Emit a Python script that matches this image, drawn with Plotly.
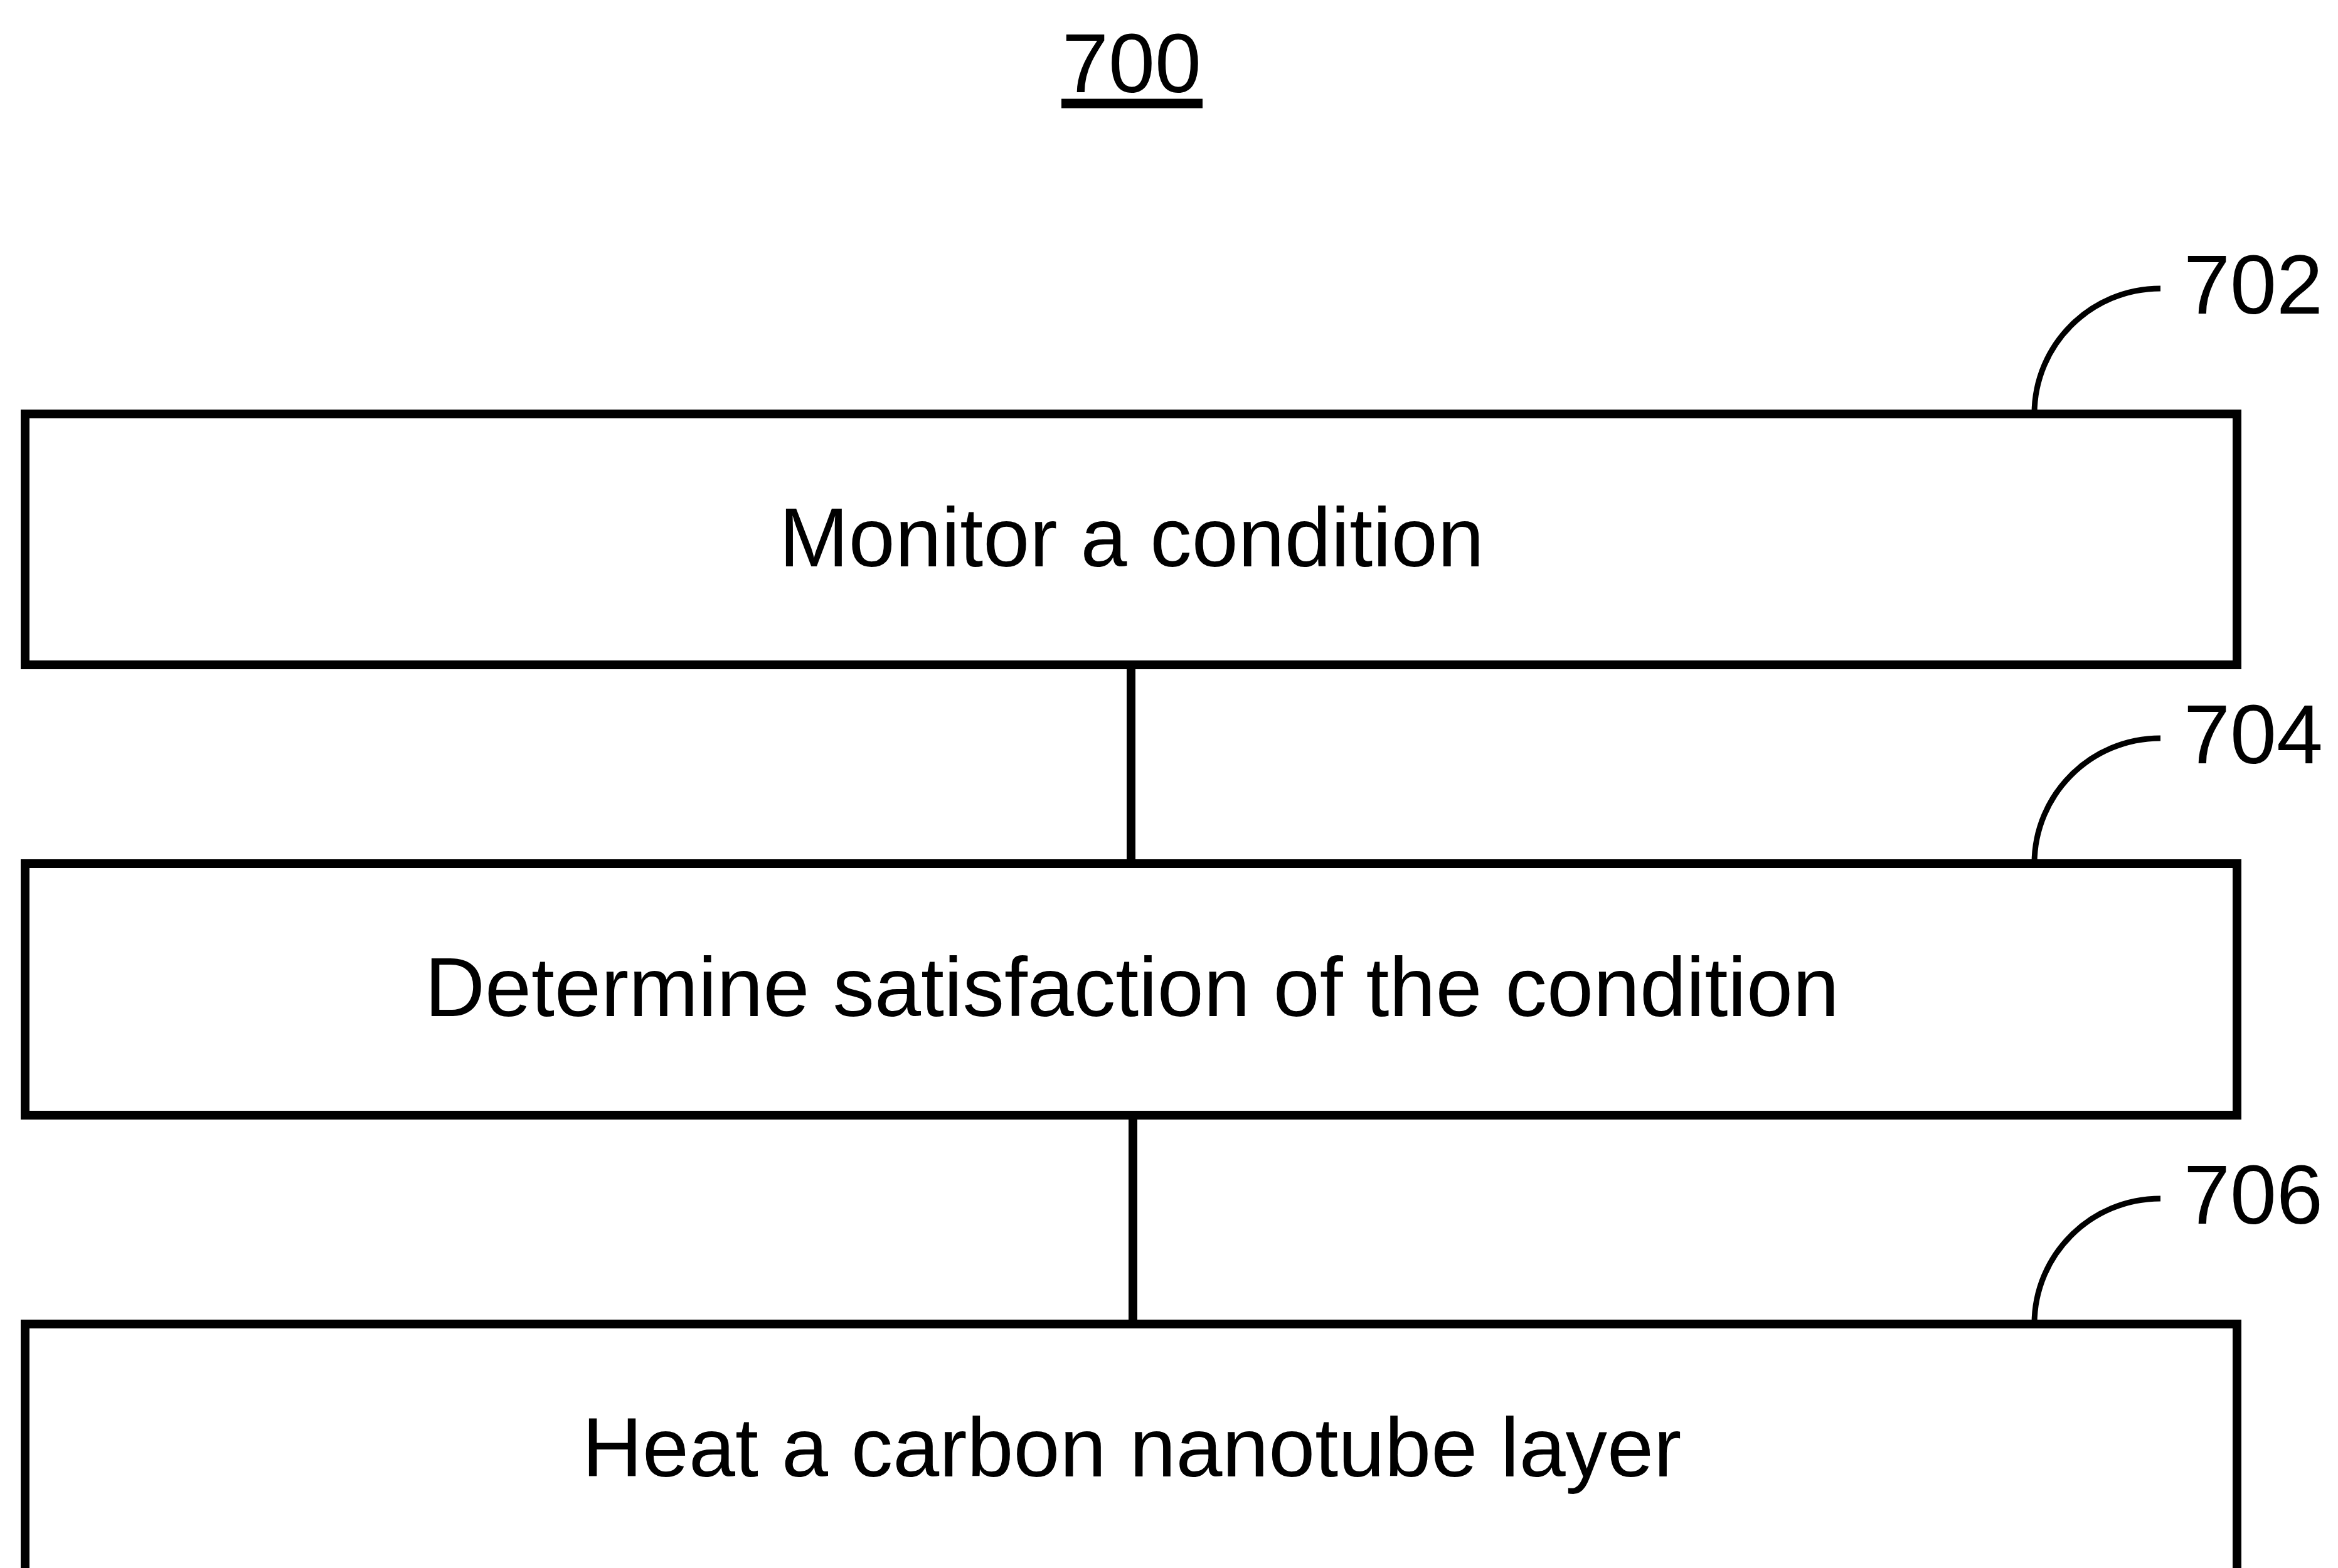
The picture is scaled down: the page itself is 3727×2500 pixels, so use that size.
import plotly.graph_objects as go

# ---- data ----
figure_number = "700"
step_labels = ["Monitor a condition",
               "Determine satisfaction of the condition",
               "Heat a carbon nanotube layer"]
step_refs = ["702", "704", "706"]

# ---- layout constants (pixels in a 3727 x 2500 canvas) ----
W, H = 3727, 2500
box_left, box_right = 40, 3566
box_tops = [660, 1377, 2111]
box_bottoms = [1060, 1778, 2540]
conn_x = [1803, 1806]
lw = 14
font_family = "Liberation Sans, Arial, sans-serif"
fs = 133

fig = go.Figure()
shapes = []
annotations = []

# title with underline
annotations.append(dict(x=1804, y=101, xref="x", yref="y", text=figure_number,
                        showarrow=False, xanchor="center", yanchor="middle",
                        font=dict(family=font_family, size=fs, color="black")))
shapes.append(dict(type="line", xref="x", yref="y", x0=1692, x1=1917, y0=165, y1=165,
                   line=dict(color="black", width=15)))

for i, (lab, ref) in enumerate(zip(step_labels, step_refs)):
    top, bot = box_tops[i], box_bottoms[i]
    shapes.append(dict(type="rect", xref="x", yref="y", x0=box_left, x1=box_right,
                       y0=top, y1=bot, line=dict(color="black", width=lw),
                       fillcolor="rgba(0,0,0,0)"))
    cy = (top + min(bot, top + 400)) / 2 - 3
    annotations.append(dict(x=1804, y=cy, xref="x", yref="y", text=lab, showarrow=False,
                            xanchor="center", yanchor="middle",
                            font=dict(family=font_family, size=fs, color="black")))
    # leader curve (quarter ellipse approximated by cubic bezier)
    x0, y0 = 3243, top
    x1, y1 = 3444, top - 200
    k = 0.5523
    path = (f"M {x0},{y0} C {x0},{y0 - k*(y0-y1)} {x1 - k*(x1-x0)},{y1} {x1},{y1}")
    shapes.append(dict(type="path", xref="x", yref="y", path=path,
                       line=dict(color="black", width=9)))
    annotations.append(dict(x=3592, y=top - 206, xref="x", yref="y", text=ref,
                            showarrow=False, xanchor="center", yanchor="middle",
                            font=dict(family=font_family, size=fs, color="black")))

# connectors
for i in range(2):
    shapes.append(dict(type="line", xref="x", yref="y", x0=conn_x[i], x1=conn_x[i],
                       y0=box_bottoms[i], y1=box_tops[i + 1],
                       line=dict(color="black", width=lw)))

fig.update_layout(
    width=W, height=H, margin=dict(l=0, r=0, t=0, b=0),
    paper_bgcolor="white", plot_bgcolor="white",
    xaxis=dict(range=[0, W], visible=False, fixedrange=True),
    yaxis=dict(range=[H, 0], visible=False, fixedrange=True),
    shapes=shapes, annotations=annotations, showlegend=False,
)
fig.write_html(
    "out.html",
    config={"displayModeBar": False},
    post_script="document.body.style.margin='0';document.body.style.overflow='hidden';",
)
